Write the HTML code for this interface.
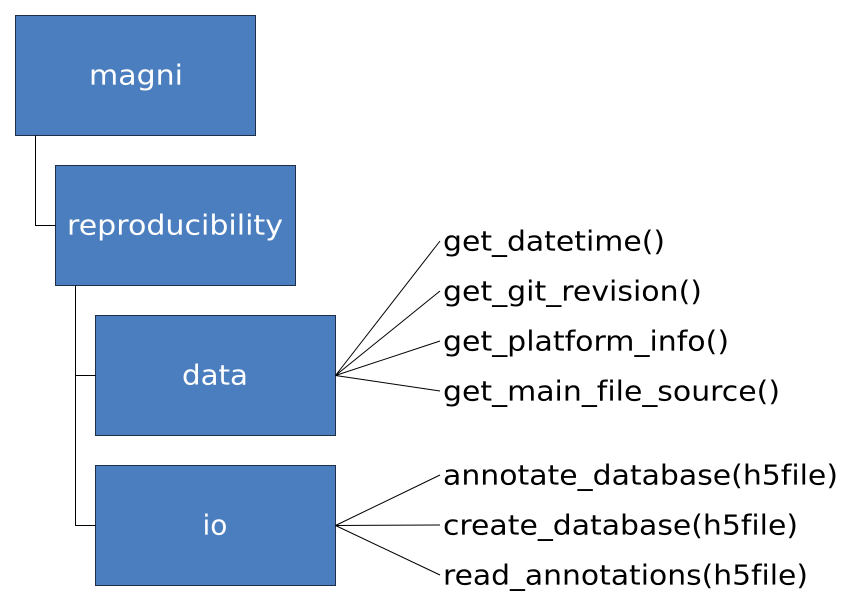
<!DOCTYPE html>
<html><head><meta charset="utf-8"><style>
body{margin:0;background:#fff;}
svg{display:block;font-family:"DejaVu Sans","Liberation Sans",sans-serif;font-variant-ligatures:none;}
</style></head><body>
<svg width="857" height="615" xmlns="http://www.w3.org/2000/svg">
<g fill="#4a7ebf" stroke="#1f2f4a" stroke-width="1">
<rect x="15.5" y="15.5" width="240" height="120"/>
<rect x="55.5" y="165.5" width="240" height="120"/>
<rect x="95.5" y="315.5" width="240" height="120"/>
<rect x="95.5" y="465.5" width="240" height="120"/>
</g>
<g stroke="#000" stroke-width="1" fill="none">
<path d="M35.5 135.5V225.5H55.5"/>
<path d="M75.5 285.5V525.5H95.5M75.5 375.5H95.5"/>
<path d="M335.5 375.5L440 241M335.5 375.5L440 291M335.5 375.5L440 341M335.5 375.5L440 391"/>
<path d="M335.5 525.5L440 475M335.5 525.5L440 525M335.5 525.5L440 575"/>
</g>
<g fill="#fff" font-size="28" text-anchor="middle" dominant-baseline="central">
<text x="136" y="75" textLength="94" lengthAdjust="spacingAndGlyphs">magni</text>
<text x="175" y="225" textLength="216" lengthAdjust="spacingAndGlyphs">reproducibility</text>
<text x="215" y="375" textLength="66" lengthAdjust="spacingAndGlyphs">data</text>
<text x="215" y="525">io</text>
</g>
<g fill="#000" font-size="28" dominant-baseline="central" lengthAdjust="spacingAndGlyphs">
<text x="443" y="241" textLength="222" lengthAdjust="spacingAndGlyphs">get_datetime()</text>
<text x="443" y="291" textLength="259" lengthAdjust="spacingAndGlyphs">get_git_revision()</text>
<text x="443" y="341" textLength="286" lengthAdjust="spacingAndGlyphs">get_platform_info()</text>
<text x="443" y="391" textLength="337" lengthAdjust="spacingAndGlyphs">get_main_file_source()</text>
<text x="443" y="475" textLength="395" lengthAdjust="spacingAndGlyphs">annotate_database(h5file)</text>
<text x="443" y="525" textLength="355" lengthAdjust="spacingAndGlyphs">create_database(h5file)</text>
<text x="443" y="575" textLength="365" lengthAdjust="spacingAndGlyphs">read_annotations(h5file)</text>
</g>
</svg>
</body></html>
